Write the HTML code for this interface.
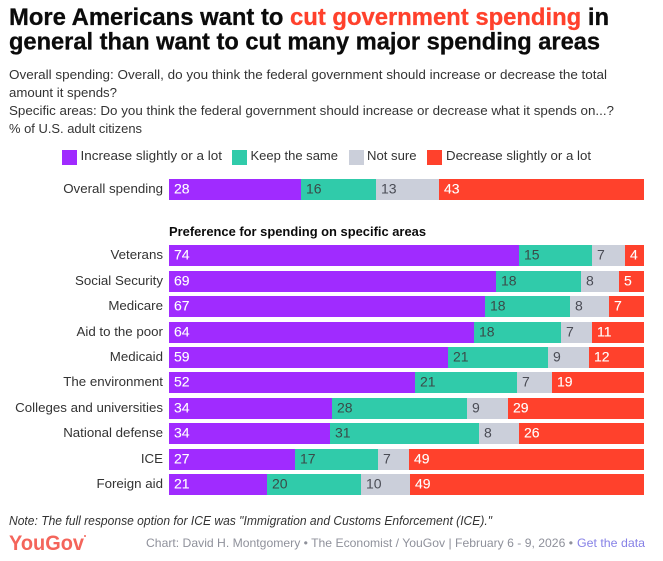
<!DOCTYPE html>
<html lang="en">
<head>
<meta charset="utf-8">
<title>More Americans want to cut government spending</title>
<style>
html,body{margin:0;padding:0;background:#fff;}
svg{display:block;font-family:"Liberation Sans",Arial,sans-serif;}
</style>
</head>
<body>
<svg id="chart" width="663" height="561" viewBox="0 0 663 561" xmlns="http://www.w3.org/2000/svg">
  <rect x="0" y="0" width="663" height="561" fill="#ffffff"/>
  <g font-weight="700" font-size="24" fill="#0b0b0b" stroke-width="0.3">
    <text x="9" y="25" stroke="#0b0b0b" textLength="600" lengthAdjust="spacingAndGlyphs">More Americans want to <tspan fill="#ff412c" stroke="#ff412c">cut government spending</tspan> in</text>
    <text x="9" y="49.5" stroke="#0b0b0b" textLength="591" lengthAdjust="spacingAndGlyphs">general than want to cut many major spending areas</text>
  </g>
  <g font-size="13" fill="#333333">
    <text x="9" y="79" textLength="598" lengthAdjust="spacingAndGlyphs">Overall spending: Overall, do you think the federal government should increase or decrease the total</text>
    <text x="9" y="97" textLength="108" lengthAdjust="spacingAndGlyphs">amount it spends?</text>
    <text x="9" y="115" textLength="605" lengthAdjust="spacingAndGlyphs">Specific areas: Do you think the federal government should increase or decrease what it spends on...?</text>
    <text x="9" y="133" textLength="133" lengthAdjust="spacingAndGlyphs">% of U.S. adult citizens</text>
  </g>
  <g font-size="13" fill="#333333">
    <rect x="62" y="150" width="15" height="15" fill="#a02bff"/>
    <text x="80.5" y="160" textLength="141.5" lengthAdjust="spacingAndGlyphs">Increase slightly or a lot</text>
    <rect x="232" y="150" width="15" height="15" fill="#30cbaa"/>
    <text x="250.5" y="160" textLength="87.5" lengthAdjust="spacingAndGlyphs">Keep the same</text>
    <rect x="349" y="150" width="15" height="15" fill="#cbcfda"/>
    <text x="367" y="160" textLength="49.5" lengthAdjust="spacingAndGlyphs">Not sure</text>
    <rect x="427" y="150" width="15" height="15" fill="#ff412c"/>
    <text x="446" y="160" textLength="145" lengthAdjust="spacingAndGlyphs">Decrease slightly or a lot</text>
  </g>
  <text x="169" y="236" font-size="12.5" font-weight="700" fill="#0b0b0b" textLength="257" lengthAdjust="spacingAndGlyphs">Preference for spending on specific areas</text>
  <g id="bars"></g>
  <text x="9" y="525" font-size="12.5" font-style="italic" fill="#333333" textLength="483" lengthAdjust="spacingAndGlyphs">Note: The full response option for ICE was "Immigration and Customs Enforcement (ICE)."</text>
  <text x="9" y="550" font-size="21" font-weight="700" fill="#f4655b" textLength="75" lengthAdjust="spacingAndGlyphs">YouGov</text>
  <circle cx="85" cy="536" r="1" fill="#f4655b"/>
  <text x="146" y="547" font-size="12" fill="#8f919b" textLength="427" lengthAdjust="spacingAndGlyphs">Chart: David H. Montgomery • The Economist / YouGov | February 6 - 9, 2026 •</text>
  <text x="577" y="547" font-size="12" fill="#8681e6" textLength="68" lengthAdjust="spacingAndGlyphs" style="cursor:pointer">Get the data</text>
</svg>
<script>
const categories = ["Overall spending","Veterans","Social Security","Medicare","Aid to the poor","Medicaid","The environment","Colleges and universities","National defense","ICE","Foreign aid"];
const increaseValues = [27.8,73.7,68.8,66.5,64.2,58.7,51.8,34.3,33.9,26.6,20.6];
const sameValues = [15.8,15.4,17.9,17.9,18.3,21.1,21.4,28.4,31.4,17.3,19.8];
const notSureValues = [13.3,6.9,8.0,8.2,6.5,8.6,7.4,8.6,8.4,6.7,10.3];
const decreaseValues = [43.2,4.0,5.3,7.4,11.0,11.6,19.4,28.7,26.3,49.4,49.3];
const seriesNames = ["increase","same","not-sure","decrease"];
const seriesValues = [increaseValues,sameValues,notSureValues,decreaseValues];
const seriesColors = ["#a02bff","#30cbaa","#cbcfda","#ff412c"];
const labelColors = ["#ffffff","#3a4a48","#4a4c55","#ffffff"];

const NS = "http://www.w3.org/2000/svg";
const plotLeft = 169, plotRight = 644, barHeight = 21;
function xScale(v){ return plotLeft + (plotRight - plotLeft) * v / 100; }
function yScale(i){ return i === 0 ? 179 : Math.round(245.3 + 25.42 * (i - 1)); }

const barsGroup = document.getElementById("bars");
categories.forEach(function(cat, i){
  const slug = cat.toLowerCase().replace(/[^a-z]+/g, "-");
  const y = yScale(i);
  const row = document.createElementNS(NS, "g");
  
  
  const label = document.createElementNS(NS, "text");
  
  
  label.setAttribute("x", plotLeft - 6);
  label.setAttribute("y", y + 14);
  label.setAttribute("text-anchor", "end");
  label.setAttribute("font-size", "13.3");
  label.setAttribute("fill", "#333333");
  label.textContent = cat;
  row.appendChild(label);
  let cumulative = 0;
  seriesValues.forEach(function(values, s){
    const v = values[i];
    const x0 = Math.round(xScale(cumulative));
    const x1 = Math.round(xScale(cumulative + v));
    const rect = document.createElementNS(NS, "rect");
    
    
    rect.setAttribute("x", x0);
    rect.setAttribute("y", y);
    rect.setAttribute("width", Math.max(0, x1 - x0));
    rect.setAttribute("height", barHeight);
    rect.setAttribute("fill", seriesColors[s]);
    row.appendChild(rect);
    const text = document.createElementNS(NS, "text");
    
    
    text.setAttribute("x", x0 + 5);
    text.setAttribute("y", y + 14.5);
    text.setAttribute("font-size", "14");
    text.setAttribute("fill", labelColors[s]);
    if (labelColors[s] === "#ffffff") {
      text.setAttribute("stroke", "#ffffff");
      text.setAttribute("stroke-width", "0.1");
    }
    text.textContent = Math.round(v);
    row.appendChild(text);
    cumulative += v;
  });
  barsGroup.appendChild(row);
});
</script>
</body>
</html>
